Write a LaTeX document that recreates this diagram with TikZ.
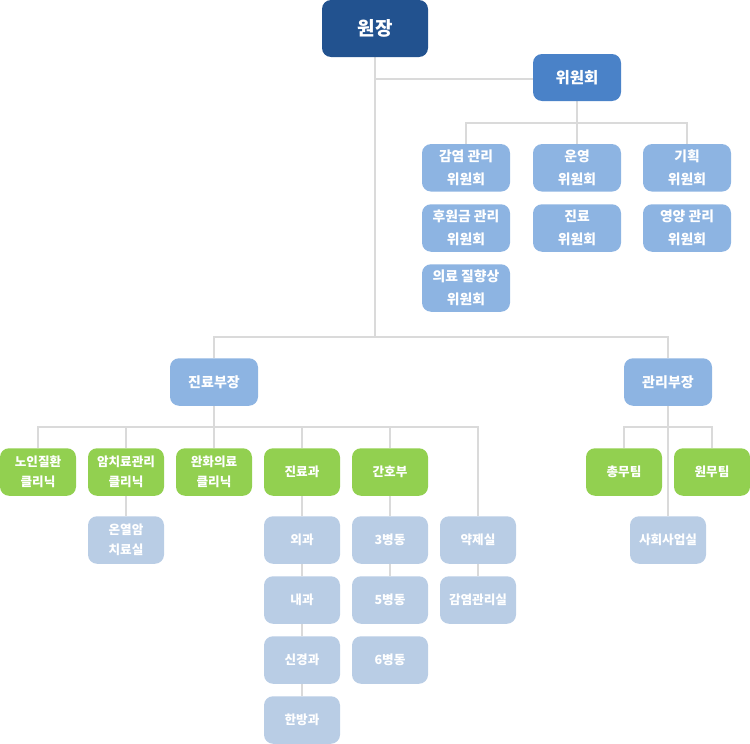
\documentclass[tikz,border=0pt]{standalone}
\usepackage{fontspec}
\setmainfont{Noto Sans CJK KR}
\usetikzlibrary{backgrounds}
\definecolor{topblue}{HTML}{22528F}
\definecolor{comblue}{HTML}{4A82C8}
\definecolor{midblue}{HTML}{8DB4E2}
\definecolor{leafgreen}{HTML}{92D050}
\definecolor{paleblue}{HTML}{B9CDE5}
\definecolor{linegray}{HTML}{DADADA}
\tikzset{
  box/.style={rectangle, rounded corners=9pt, inner sep=0pt, align=center, text=white},
  topbox/.style={box, fill=topblue, minimum width=106pt, minimum height=57pt, font=\bfseries\fontsize{19}{22}\selectfont},
  combox/.style={box, fill=comblue, minimum width=88pt, minimum height=47pt, font=\bfseries\fontsize{15.5}{20}\selectfont},
  cmtbox/.style={box, fill=midblue, minimum width=88pt, minimum height=47.5pt, font=\bfseries\fontsize{13.8}{22.5}\selectfont},
  headbox/.style={box, fill=midblue, minimum width=88pt, minimum height=47.5pt, font=\bfseries\fontsize{14}{20}\selectfont},
  greenbox/.style={box, fill=leafgreen, minimum width=76pt, minimum height=47.5pt, font=\bfseries\fontsize{12.6}{20}\selectfont},
  palebox/.style={box, fill=paleblue, minimum width=76pt, minimum height=47.5pt, font=\bfseries\fontsize{12.6}{20}\selectfont},
  conn/.style={draw=linegray, line width=2pt}
}
\begin{document}
\begin{tikzpicture}[x=1pt,y=-1pt]
\useasboundingbox (0,0) rectangle (750,744);
% top
\node[topbox] (wonjang) at (375,28.5) {원장};
\node[combox] (wiwon) at (577,77.5) {위원회};
% committees
\node[cmtbox] (gamyeom) at (466,167.8) {감염 관리\\위원회};
\node[cmtbox] (unyeong) at (577,167.8) {운영\\위원회};
\node[cmtbox] (giheok) at (687,167.8) {기획\\위원회};
\node[cmtbox] (huwon) at (466,228) {후원금 관리\\위원회};
\node[cmtbox] (jinryocm) at (577,228) {진료\\위원회};
\node[cmtbox] (yeongyang) at (687,228) {영양 관리\\위원회};
\node[cmtbox] (uiryo) at (466,288) {의료 질향상\\위원회};
% heads
\node[headbox] (jb) at (214,382) {진료부장};
\node[headbox] (gb) at (668,382) {관리부장};
% green row
\node[greenbox] (noin) at (38,472) {노인질환\\클리닉};
\node[greenbox] (amchi) at (126,472) {암치료관리\\클리닉};
\node[greenbox] (wanhwa) at (214,472) {완화의료\\클리닉};
\node[greenbox] (jinryogwa) at (302,472) {진료과};
\node[greenbox] (ganho) at (390,472) {간호부};
\node[greenbox] (chongmu) at (624,472) {총무팀};
\node[greenbox] (wonmu) at (712,472) {원무팀};
% pale
\node[palebox] (onyeol) at (126,540) {온열암\\치료실};
\node[palebox] (oegwa) at (302,540) {외과};
\node[palebox] (naegwa) at (302,600) {내과};
\node[palebox] (singyeong) at (302,660) {신경과};
\node[palebox] (hanbang) at (302,720) {한방과};
\node[palebox] (w3) at (390,540) {3병동};
\node[palebox] (w5) at (390,600) {5병동};
\node[palebox] (w6) at (390,660) {6병동};
\node[palebox] (yakje) at (478,540) {약제실};
\node[palebox] (gamsil) at (478,600) {감염관리실};
\node[palebox] (sahoe) at (668,540) {사회사업실};
% junctions
\coordinate (jtop) at (375,79);
\coordinate (jmain) at (375,337);
\coordinate (jcom) at (577,123);
\coordinate (jjb) at (214,427);
\coordinate (jgb) at (668,427);
\begin{scope}[on background layer]
\draw[conn] (wonjang.south) -- (jmain);
\draw[conn] (jtop) -- (wiwon.west |- jtop);
\draw[conn] (wiwon.south) -- (jcom);
\draw[conn] (jcom) -| (gamyeom.north);
\draw[conn] (jcom) -| (giheok.north);
\draw[conn] (jcom) -- (unyeong.north);
\draw[conn] (jmain) -| (jb.north);
\draw[conn] (jmain) -| (gb.north);
\draw[conn] (jb.south) -- (jjb);
\draw[conn] (jjb) -| (noin.north);
\draw[conn] (jjb) -| (amchi.north);
\draw[conn] (jjb) -- (wanhwa.north);
\draw[conn] (jjb) -| (jinryogwa.north);
\draw[conn] (jjb) -| (ganho.north);
\draw[conn] (jjb) -| (yakje.north);
\draw[conn] (amchi.south) -- (onyeol.north);
\draw[conn] (jinryogwa.south) -- (oegwa.north);
\draw[conn] (oegwa.south) -- (naegwa.north);
\draw[conn] (naegwa.south) -- (singyeong.north);
\draw[conn] (singyeong.south) -- (hanbang.north);
\draw[conn] (ganho.south) -- (w3.north);
\draw[conn] (w3.south) -- (w5.north);
\draw[conn] (yakje.south) -- (gamsil.north);
\draw[conn] (gb.south) -- (sahoe.north);
\draw[conn] (jgb) -| (chongmu.north);
\draw[conn] (jgb) -| (wonmu.north);
\end{scope}
\end{tikzpicture}
\end{document}
